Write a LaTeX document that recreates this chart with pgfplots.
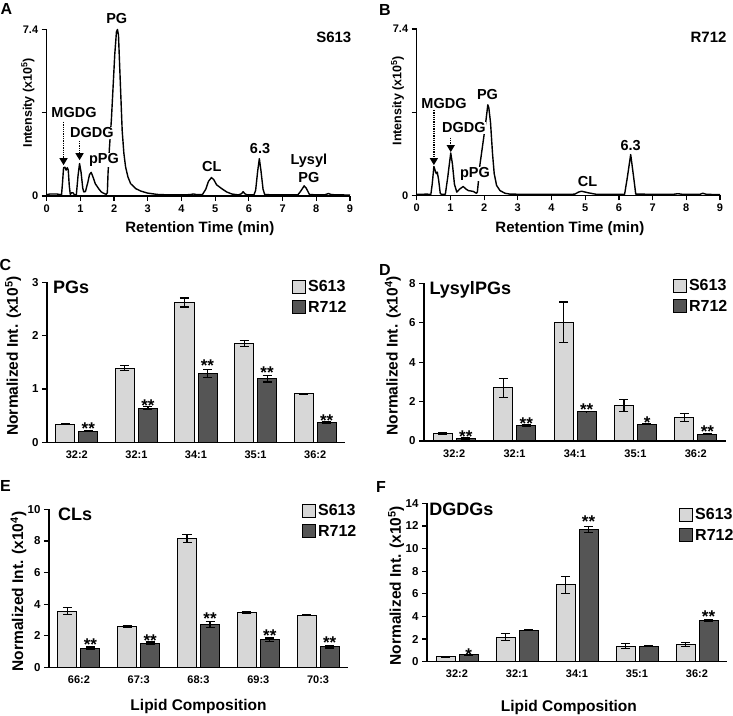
\documentclass[border=0pt]{standalone}
\usepackage{fontspec}
\setmainfont{Liberation Sans}
\usepackage{pgfplots}
\usepackage{pgfplotstable}
\pgfplotsset{compat=1.18}
\usetikzlibrary{arrows.meta}
\definecolor{lightbar}{RGB}{215,215,215}
\definecolor{darkbar}{RGB}{85,85,85}
\newcommand{\fs}[1]{\fontsize{#1}{#1}\selectfont\bfseries}

\pgfplotstableread{
x l le d de
0 0.34 0.012 0.21 0.015
1 1.39 0.05 0.64 0.03
2 2.62 0.085 1.29 0.07
3 1.85 0.055 1.19 0.06
4 0.91 0.012 0.37 0.015
}\dataC
\pgfplotstableread{
x l le d de
0 0.40 0.05 0.12 0.03
1 2.70 0.48 0.78 0.03
2 6.03 1.02 1.49 0.01
3 1.80 0.31 0.85 0.02
4 1.18 0.20 0.34 0.01
}\dataD
\pgfplotstableread{
x l le d de
0 3.56 0.22 1.21 0.07
1 2.58 0.05 1.52 0.08
2 8.15 0.26 2.72 0.20
3 3.44 0.06 1.75 0.10
4 3.31 0.05 1.29 0.07
}\dataE
\pgfplotstableread{
x l le d de
0 0.45 0.03 0.62 0.05
1 2.18 0.34 2.78 0.05
2 6.80 0.75 11.68 0.27
3 1.38 0.20 1.37 0.03
4 1.53 0.20 3.65 0.10
}\dataF

\tikzset{
  peak/.style={font=\fs{14.5}, inner sep=0.5pt},
  arr/.style={densely dotted, line width=1.3pt, -{Triangle[width=8pt,length=7pt]}},
  star/.style={font=\fs{17}, anchor=base, yshift=-7pt, inner sep=0pt},
  ptitle/.style={font=\fs{18}, anchor=base west, inner sep=0pt},
}

\pgfplotsset{
  base/.style={
    scale only axis, anchor=south west,
    axis x line*=bottom, axis y line*=left,
    axis line style={line width=1.4pt, black},
    tick align=outside, major tick length=5pt,
    every tick/.style={line width=1.2pt, black},
    /pgf/number format/assume math mode=true,
    clip=false,
  },
  chrom/.style={base, width=303.3pt, height=166.5pt,
    xmin=0, xmax=9, ymin=0, ymax=7.4,
    xtick={0,...,9}, ytick={0,3.7,7.4}, yticklabels={0,,7.4},
    tick label style={font=\fs{11}},
    xlabel={Retention Time (min)},
    ylabel={Intensity (x10\textsuperscript{5})},
    xlabel style={font=\fs{15}, at={(axis description cs:0.505,-0.198)}, anchor=center},
    ylabel style={font=\fs{12.5}, at={(axis description cs:-0.062,0.56)}, anchor=center},
  },
  trace/.style={black, line width=1.4pt, line join=round, no markers},
  bars/.style={base, xmin=-0.5, xmax=4.5, ymin=0,
    xtick={0,...,4}, xtick style={draw=none},
    x tick label style={font=\fs{11}},
    y tick label style={font=\fs{11.5}},
    ybar, bar width=19pt,
    ylabel style={font=\fs{15.5}, anchor=center},
    xlabel style={font=\fs{15.5}, anchor=center},
    legend image code/.code={\draw[##1, line width=1pt] (0pt,-6.5pt) rectangle (13pt,6.5pt);},
    legend style={draw=none, fill=none, font=\fs{16}, anchor=north west, inner sep=0pt, row sep=3.5pt, legend cell align=left},
  },
  lb/.style={fill=lightbar, draw=black, line width=1pt, bar shift=-11.5pt, forget plot,
     error bars/.cd, y dir=both, y explicit, error bar style={line width=1.2pt, black, solid}, error mark options={rotate=90, mark size=4.5pt, line width=1.2pt, black}},
  db/.style={fill=darkbar, draw=black, line width=1pt, bar shift=11.5pt, forget plot,
     error bars/.cd, y dir=both, y explicit, error bar style={line width=1.2pt, black, solid}, error mark options={rotate=90, mark size=4.5pt, line width=1.2pt, black}},
}

\begin{document}
\begin{tikzpicture}
\useasboundingbox (0pt,0pt) rectangle (733pt,715pt);

% ---------- A ----------
\begin{axis}[chrom, at={(46.7pt,519pt)}]
\addplot[trace] coordinates {(0,0.06)(0.1,0.09)(0.3,0.09)(0.4,0.06)(0.44,0.05)(0.47,0.6)(0.5,1.25)(0.54,1.28)(0.575,1.15)(0.61,1.26)(0.64,1.15)(0.67,0.45)(0.7,0.07)(0.74,0.15)(0.78,0.14)(0.83,0.04)(0.88,0.06)(0.93,0.9)(0.975,1.44)(1.02,1.05)(1.07,0.35)(1.1,0.18)(1.15,0.2)(1.22,0.6)(1.27,0.95)(1.32,1.05)(1.38,0.82)(1.44,0.55)(1.54,0.33)(1.62,0.18)(1.69,0.12)(1.77,0.07)(1.8,0.15)(1.82,1.0)(1.86,2.1)(1.92,3.4)(1.97,4.85)(2.02,6.3)(2.07,7.3)(2.1,7.4)(2.13,7.15)(2.17,5.6)(2.24,2.9)(2.29,1.9)(2.34,1.3)(2.41,0.85)(2.49,0.55)(2.64,0.33)(2.79,0.22)(2.99,0.13)(3.28,0.07)(3.6,0.05)(4.0,0.05)(4.25,0.06)(4.35,0.09)(4.45,0.06)(4.62,0.06)(4.72,0.3)(4.8,0.65)(4.89,0.82)(4.96,0.72)(5.04,0.5)(5.19,0.33)(5.34,0.18)(5.49,0.09)(5.68,0.05)(5.78,0.1)(5.83,0.19)(5.88,0.1)(5.95,0.05)(6.15,0.05)(6.2,0.25)(6.26,1.1)(6.31,1.66)(6.36,1.1)(6.42,0.3)(6.47,0.06)(7.0,0.05)(7.45,0.05)(7.53,0.2)(7.64,0.45)(7.7,0.35)(7.8,0.06)(8.25,0.05)(8.36,0.11)(8.45,0.06)(9,0.04)};
\node[peak] at (axis cs:2.08,7.87) {PG};
\node[peak] at (axis cs:0.81,3.69) {MGDG};
\node[peak, fill=white] at (axis cs:1.34,2.8) {DGDG};
\node[peak, fill=white] at (axis cs:1.70,1.6) {pPG};
\node[peak] at (axis cs:4.9,1.29) {CL};
\node[peak] at (axis cs:6.33,2.09) {6.3};
\node[peak] at (axis cs:7.78,1.56) {Lysyl};
\node[peak] at (axis cs:7.78,0.8) {PG};
\node[font=\fs{15}] at (axis cs:8.52,7.07) {S613};
\draw[arr] (axis cs:0.5,3.29) -- (axis cs:0.5,1.37);
\draw[arr] (axis cs:0.975,2.45) -- (axis cs:0.975,1.59);
\end{axis}

% ---------- B ----------
\begin{axis}[chrom, at={(416.7pt,519.5pt)}, ylabel style={at={(axis description cs:-0.063,0.57)}}]
\addplot[trace] coordinates {(0,0.05)(0.3,0.06)(0.42,0.05)(0.46,0.5)(0.51,1.29)(0.55,1.1)(0.58,0.97)(0.61,1.04)(0.65,0.7)(0.7,0.08)(0.75,0.05)(0.85,0.06)(0.92,0.8)(1.01,1.89)(1.06,1.4)(1.12,0.5)(1.19,0.15)(1.27,0.28)(1.38,0.4)(1.45,0.3)(1.53,0.22)(1.68,0.18)(1.77,0.1)(1.8,0.15)(1.83,0.6)(1.87,1.3)(2.0,2.7)(2.06,3.4)(2.11,4.03)(2.14,3.9)(2.19,3.25)(2.25,1.86)(2.3,0.97)(2.37,0.45)(2.47,0.22)(2.62,0.1)(2.77,0.06)(3.5,0.05)(4.5,0.05)(4.69,0.06)(4.8,0.15)(4.89,0.19)(5.09,0.12)(5.34,0.05)(6.1,0.05)(6.17,0.06)(6.25,0.8)(6.35,1.82)(6.43,0.9)(6.5,0.06)(7.6,0.05)(7.75,0.08)(7.9,0.05)(8.4,0.05)(8.49,0.1)(8.6,0.05)(9,0.04)};
\node[peak] at (axis cs:2.1,4.47) {PG};
\node[peak] at (axis cs:0.81,4.07) {MGDG};
\node[peak, fill=white] at (axis cs:1.40,3.0) {DGDG};
\node[peak, fill=white] at (axis cs:1.73,0.96) {pPG};
\node[peak] at (axis cs:5.07,0.6) {CL};
\node[peak] at (axis cs:6.35,2.24) {6.3};
\node[font=\fs{15}] at (axis cs:8.66,7.04) {R712};
\draw[arr] (axis cs:0.51,3.8) -- (axis cs:0.51,1.35);
\draw[arr] (axis cs:1.01,2.57) -- (axis cs:1.01,1.93);
\end{axis}

% ---------- C ----------
\begin{axis}[bars, at={(47pt,272.7pt)}, width=298pt, height=160pt, ymax=3, ytick={0,1,2,3},
  xticklabels={32:2,32:1,34:1,35:1,36:2},
  ylabel={Normalized Int. (x10\textsuperscript{5})},
  ylabel style={at={(axis description cs:-0.114,0.54)}},
  legend style={at={(axis description cs:0.822,1.024)}}]
\addplot[lb] table[x=x, y=l, y error=le] {\dataC};
\addplot[db] table[x=x, y=d, y error=de] {\dataC};
\addlegendimage{fill=lightbar, draw=black}\addlegendentry{S613}
\addlegendimage{fill=darkbar, draw=black}\addlegendentry{R712}
\node[ptitle] at (axis description cs:0.02,0.927) {PGs};
\node[star] at (axis cs:0.193,0.28) {**};
\node[star] at (axis cs:1.193,0.71) {**};
\node[star] at (axis cs:2.193,1.46) {**};
\node[star] at (axis cs:3.193,1.32) {**};
\node[star] at (axis cs:4.193,0.43) {**};
\end{axis}

% ---------- D ----------
\begin{axis}[bars, at={(424pt,274pt)}, width=302pt, height=157.7pt, ymax=8, ytick={0,2,4,6,8},
  xticklabels={32:2,32:1,34:1,35:1,36:2},
  ylabel={Normalized Int. (x10\textsuperscript{4})},
  ylabel style={at={(axis description cs:-0.103,0.54)}},
  legend style={at={(axis description cs:0.824,1.037)}}]
\addplot[lb] table[x=x, y=l, y error=le] {\dataD};
\addplot[db] table[x=x, y=d, y error=de] {\dataD};
\addlegendimage{fill=lightbar, draw=black}\addlegendentry{S613}
\addlegendimage{fill=darkbar, draw=black}\addlegendentry{R712}
\node[ptitle] at (axis description cs:0.018,0.926) {LysylPGs};
\node[star] at (axis cs:0.193,0.27) {**};
\node[star] at (axis cs:1.193,0.93) {**};
\node[star] at (axis cs:2.193,1.66) {**};
\node[star] at (axis cs:3.193,0.98) {*};
\node[star] at (axis cs:4.193,0.52) {**};
\end{axis}

% ---------- E ----------
\begin{axis}[bars, at={(49pt,47.7pt)}, width=299pt, height=158pt, ymax=10, ytick={0,2,4,6,8,10},
  xticklabels={66:2,67:3,68:3,69:3,70:3},
  xlabel={Lipid Composition},
  xlabel style={at={(axis description cs:0.5,-0.251)}},
  ylabel={Normalized Int. (x10\textsuperscript{4})},
  ylabel style={at={(axis description cs:-0.102,0.48)}},
  legend style={at={(axis description cs:0.846,1.043)}}]
\addplot[lb] table[x=x, y=l, y error=le] {\dataE};
\addplot[db] table[x=x, y=d, y error=de] {\dataE};
\addlegendimage{fill=lightbar, draw=black}\addlegendentry{S613}
\addlegendimage{fill=darkbar, draw=black}\addlegendentry{R712}
\node[ptitle] at (axis description cs:0.03,0.926) {CLs};
\node[star] at (axis cs:0.193,1.48) {**};
\node[star] at (axis cs:1.193,1.77) {**};
\node[star] at (axis cs:2.193,3.16) {**};
\node[star] at (axis cs:3.193,2.05) {**};
\node[star] at (axis cs:4.193,1.62) {**};
\end{axis}

% ---------- F ----------
\begin{axis}[bars, at={(427pt,53.3pt)}, width=300pt, height=158.4pt, ymax=14, ytick={0,2,4,6,8,10,12,14},
  xticklabels={32:2,32:1,34:1,35:1,36:2},
  xlabel={Lipid Composition},
  xlabel style={at={(axis description cs:0.473,-0.286)}},
  ylabel={Normalized Int. (x10\textsuperscript{5})},
  ylabel style={at={(axis description cs:-0.103,0.48)}},
  legend style={at={(axis description cs:0.84,0.98)}}]
\addplot[lb] table[x=x, y=l, y error=le] {\dataF};
\addplot[db] table[x=x, y=d, y error=de] {\dataF};
\addlegendimage{fill=lightbar, draw=black}\addlegendentry{S613}
\addlegendimage{fill=darkbar, draw=black}\addlegendentry{R712}
\node[ptitle] at (axis description cs:0.007,0.926) {DGDGs};
\node[star] at (axis cs:0.193,0.74) {*};
\node[star] at (axis cs:2.193,12.47) {**};
\node[star] at (axis cs:4.193,4.04) {**};
\end{axis}

% panel letters
\node[font=\fs{16}] at (6.5pt,706pt) {A};
\node[font=\fs{16}] at (385pt,705pt) {B};
\node[font=\fs{16}] at (5.5pt,450pt) {C};
\node[font=\fs{16}] at (385pt,445pt) {D};
\node[font=\fs{16}] at (5.5pt,229pt) {E};
\node[font=\fs{16}] at (381pt,228pt) {F};
\end{tikzpicture}
\end{document}
